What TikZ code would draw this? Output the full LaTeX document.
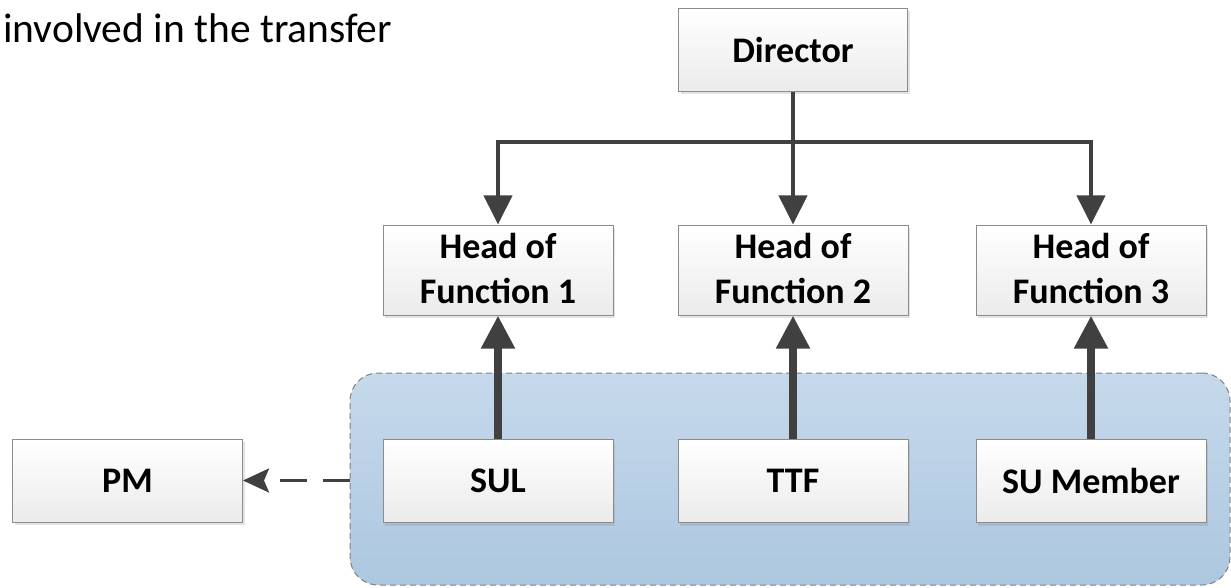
\documentclass[tikz,border=0pt]{standalone}
\usepackage{fontspec}
\setmainfont{Carlito}
\usetikzlibrary{arrows.meta,shadows}

\definecolor{boxline}{HTML}{8C8C8C}
\definecolor{boxbottom}{HTML}{EBEBEB}
\definecolor{linkgray}{HTML}{404040}
\definecolor{grouptop}{HTML}{C6D9EB}
\definecolor{groupbottom}{HTML}{ACC7E0}
\definecolor{groupline}{HTML}{808080}

\tikzset{
  orgbox/.style={draw=boxline, line width=1pt, top color=white, bottom color=boxbottom,
    minimum width=230pt, minimum height=83pt, inner sep=0pt, align=center,
    font=\fontsize{36}{45}\selectfont\bfseries,
    drop shadow={opacity=0.22, shadow xshift=2pt, shadow yshift=-3pt}},
  group/.style={draw=groupline, line width=1pt, dash pattern=on 6pt off 4pt,
    top color=grouptop, bottom color=groupbottom, rounded corners=28pt,
    minimum width=880pt, minimum height=212pt, inner sep=0pt},
  reports/.style={draw=linkgray, line width=4pt,
    -{Triangle[length=29pt, width=28pt]}},
  upward/.style={draw=linkgray, line width=8pt,
    -{Triangle[length=33pt, width=32pt]}},
  liaison/.style={draw=linkgray, line width=3pt, dash pattern=on 27pt off 16pt,
    -{Stealth[length=26pt, width=24pt, inset=5pt]}},
}

\newcommand{\liftby}[2]{\raisebox{#1}[\height][\depth]{#2}}

\begin{document}
\begin{tikzpicture}[x=1pt, y=-1pt]
  \useasboundingbox (0,0) rectangle (1231,588);

  % caption fragment
  \node[anchor=base west, inner sep=0pt, font=\fontsize{41.5}{49}\selectfont]
    (caption) at (3,43) {involved in the transfer};

  % shaded group around the working-level roles
  \node[group] (sugroup) at (790,479) {};

  % boxes
  \node[orgbox, minimum width=229pt] (dir) at (793,50) {Director};
  \node[orgbox] (h1) at (498,270) {\liftby{-2pt}{\begin{tabular}{@{}c@{}}Head of\\Function 1\end{tabular}}};
  \node[orgbox] (h2) at (793,270) {\liftby{-2pt}{\begin{tabular}{@{}c@{}}Head of\\Function 2\end{tabular}}};
  \node[orgbox] (h3) at (1091,270) {\liftby{-2pt}{\begin{tabular}{@{}c@{}}Head of\\Function 3\end{tabular}}};
  \node[orgbox] (sul) at (498,481) {SUL};
  \node[orgbox] (ttf) at (793,481) {TTF};
  \node[orgbox] (sum) at (1091,481) {SU Member};
  \node[orgbox] (pm) at (127.5,480.5) {PM};

  % director fan-out
  \coordinate (bus) at (793,142);
  \draw[reports] (dir.south) -- (bus) -| (h1.north);
  \draw[reports] (bus) -| (h3.north);
  \draw[reports] (bus) -- (h2.north);

  % reporting lines upward
  \draw[upward] (sul.north) -- (h1.south);
  \draw[upward] (ttf.north) -- (h2.south);
  \draw[upward] (sum.north) -- (h3.south);

  % dashed link from the group to PM
  \draw[liaison] (sugroup.west |- pm.east) -- (pm.east);
\end{tikzpicture}
\end{document}
